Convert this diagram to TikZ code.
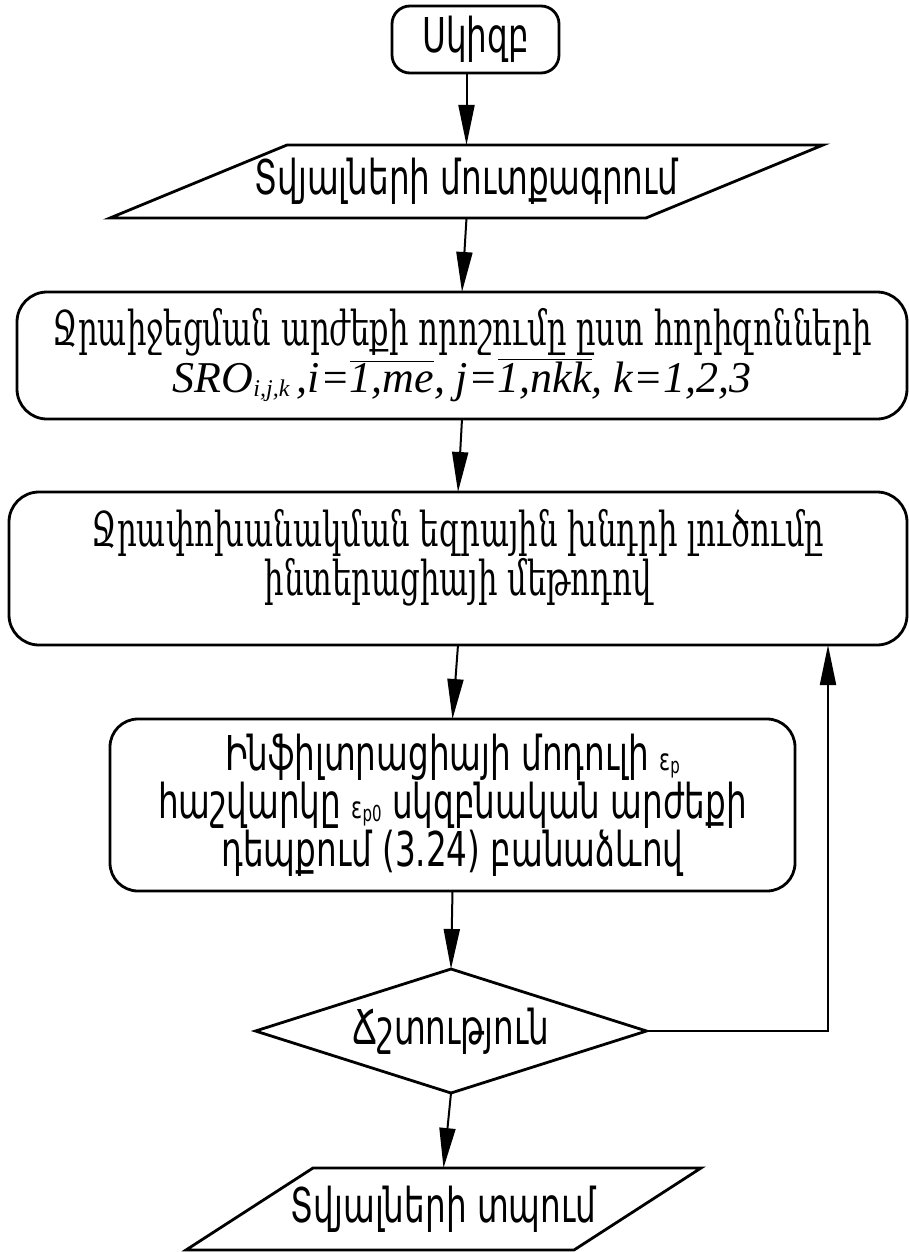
\documentclass[tikz,border=0pt]{standalone}
\usepackage{fontspec}
\usetikzlibrary{arrows.meta,shapes.geometric,calc}
\newfontfamily\armsans[FakeStretch=0.68]{DejaVu Sans}
\newfontfamily\armserif[FakeStretch=0.64]{DejaVu Serif}
\newfontfamily\tms{Liberation Serif}
\newcommand\epsub[1]{{\fontsize{15}{15}\selectfont ε\raisebox{-1.5pt}{\fontsize{11}{11}\selectfont #1}}}
\tikzset{
  boxline/.style={line width=1.4pt},
  rbox/.style={boxline, draw, rounded corners=#1, align=center, inner sep=0pt, outer sep=0pt},
  ghost/.style={inner sep=0pt, outer sep=0pt, align=center},
  decision/.style={boxline, draw, diamond, aspect=3.15, inner sep=0pt, outer sep=0pt},
  conn/.style={line width=1pt, -{Triangle[length=20pt,width=8pt]}},
  sansfont/.style={font=\armsans\fontsize{24}{24}\selectfont},
  seriffont/.style={font=\armserif\fontsize{24}{20}\selectfont}
}
\begin{document}
\begin{tikzpicture}[x=0.5pt,y=-0.5pt]
\useasboundingbox (0,0) rectangle (909,1252);
\fill[white] (0,0) rectangle (909,1252);

\node[rbox=9pt, sansfont, minimum width=83.5pt, minimum height=33.5pt] (start) at (475.5,39.5) {Սկիզբ};

\node[ghost, sansfont, minimum width=356.5pt, minimum height=36.5pt] (p1) at (466.5,181.5) {Տվյալների մուտքագրում};
\draw[boxline] (p1.south west) -- ($(p1.north west)+(177,0)$) -- (p1.north east) -- ($(p1.south east)-(177,0)$) -- cycle;

\node[rbox=15pt, minimum width=445pt, minimum height=63.5pt] (b3) at (462,355.5)
  {{\armserif\fontsize{24}{20}\selectfont Ջրաիջեցման արժեքի որոշումը ըստ հորիզոնների}\\[0pt]
   {\tms\itshape\fontsize{22}{20}\selectfont SRO\raisebox{-2pt}{\fontsize{12}{12}\selectfont i,j,k}\,,i=$\overline{\hbox{\tms\itshape 1,me}}$, j=$\overline{\hbox{\tms\itshape 1,nkk}}$, k=1,2,3}};

\node[rbox=15pt, seriffont, minimum width=449pt, minimum height=76.5pt] (b4) at (458,568.5)
  {Ջրափոխանակման եզրային խնդրի լուծումը\\ինտերացիայի մեթոդով\rule[-16pt]{0pt}{16pt}};

\node[rbox=14pt, sansfont, minimum width=342.5pt, minimum height=86pt] (b5) at (452.5,805)
  {Ինֆիլտրացիայի մոդուլի \epsub{p}\\հաշվարկը \epsub{p0} սկզբնական արժեքի\\դեպքում (3.24) բանաձևով};

\node[decision, sansfont, minimum width=195.5pt, minimum height=62pt] (d) at (451,1031) {Ճշտություն};

\node[ghost, sansfont, minimum width=257.5pt, minimum height=41pt] (p2) at (443.5,1209) {Տվյալների տպում};
\draw[boxline] (p2.south west) -- ($(p2.north west)+(127,0)$) -- (p2.north east) -- ($(p2.south east)-(127,0)$) -- cycle;

\coordinate (ret) at ([xshift=-39.5pt]b4.south east);

\draw[conn] (start.south -| p1.north) -- (p1.north);
\draw[conn] (p1.south) -- (b3.north);
\draw[conn] (b3.south) -- (b4.north);
\draw[conn] (b4.south) -- (b5.north);
\draw[conn] (b5.south) -- (d.north);
\draw[conn] (d.south) -- (p2.north);
\draw[conn] (d.east) -| (ret);
\end{tikzpicture}
\end{document}
